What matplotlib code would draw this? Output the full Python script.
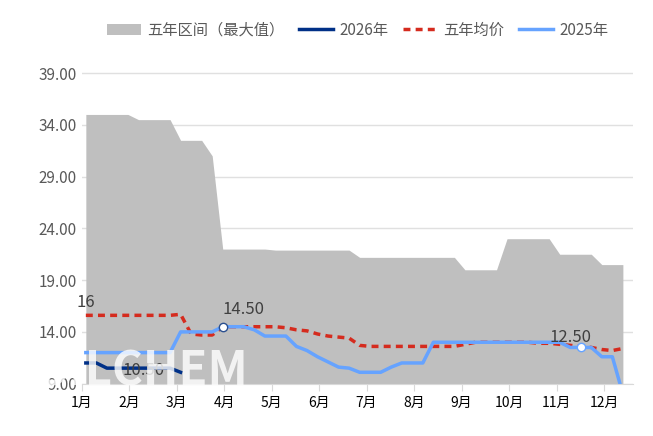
import numpy as np
import matplotlib.pyplot as plt

plt.rcParams['font.family'] = ['Noto Sans CJK SC', 'DejaVu Sans']

months = ['1月', '2月', '3月', '4月', '5月', '6月', '7月', '8月', '9月', '10月', '11月', '12月']

# 周度数据
max5 = [35.0]*5 + [34.5]*4 + [32.5]*3 + [31.0] + [22.0]*5 + [21.9]*8 + [21.2]*9 + [21.2]*1 + [20.0]*4 + [23.0]*5 + [21.5]*4 + [20.5]*3
avg5 = [15.6]*9 + [15.7, 13.8, 13.7, 13.7, 14.5, 14.5, 14.5, 14.5, 14.5, 14.5, 14.4, 14.2, 14.1,
        13.8, 13.6, 13.5, 13.4, 12.7, 12.6, 12.6, 12.6, 12.6, 12.6, 12.6, 12.6, 12.6, 12.6, 12.8, 13.0,
        13.0, 13.0, 13.0, 13.0, 13.0, 12.9, 12.9, 12.8, 12.7, 12.6, 12.5, 12.3, 12.2, 12.4]
y2025 = [12.0]*9 + [14.0]*4 + [14.5]*3 + [14.2, 13.6, 13.6, 13.6, 12.6, 12.2, 11.6, 11.1, 10.6,
         10.5, 10.1, 10.1, 10.1, 10.6, 11.0, 11.0, 11.0, 13.0] + [13.0]*12 + [12.5]*3 + [11.6, 11.6, 8.0]
y2026 = [11.0, 11.0, 10.5, 10.5, 10.5, 10.5, 10.5, 10.5, 10.5, 10.1]

fig, ax = plt.subplots(figsize=(6.53, 4.36), dpi=100)
fig.subplots_adjust(left=0.125, right=0.97, top=0.88, bottom=0.12)

ax.fill_between(np.arange(len(max5)), 0, max5, color='#bfbfbf', lw=0, label='五年区间（最大值）')
ax.plot(np.arange(len(y2026)), y2026, color='#003087', lw=2.5, label='2026年')
ax.plot(np.arange(len(avg5)), avg5, color='#d52b1e', lw=2.5, ls=(0, (2, 1.5)), label='五年均价')
ax.plot(np.arange(len(y2025)), y2025, color='#66a3ff', lw=2.5, label='2025年')

# 标注点
ax.plot(13, y2025[13], 'o', ms=6, mfc='white', mec='#2a4f8f', mew=1)
ax.plot(47, y2025[47], 'o', ms=6, mfc='white', mec='#66a3ff', mew=1)
ax.text(0, 16.4, '16', fontsize=12, color='#404040', ha='center')
ax.text(15, 15.7, '14.50', fontsize=12, color='#404040', ha='center')
ax.text(5.5, 9.8, '10.50', fontsize=12, color='#404040', ha='center')
ax.text(46, 13.0, '12.50', fontsize=12, color='#404040', ha='center')
ax.text(-5, 8.8, 'OILCHEM', fontsize=34, color='white', alpha=0.8, fontweight='bold', zorder=5)

ax.set_xlim(0, 52)
ax.set_ylim(9, 41)
ax.set_yticks(np.arange(9, 40, 5))
ax.set_yticklabels([f'{v:.2f}' for v in np.arange(9, 40, 5)], fontsize=11, color='#595959')
ax.set_xticks(-0.4 + 4.51*np.arange(12))
ax.set_xticklabels(months, fontsize=11, color='#595959')
ax.yaxis.grid(True, color='#e0e0e0', lw=1)
ax.set_axisbelow(True)
ax.tick_params(axis='y', length=0)
ax.tick_params(axis='x', length=5, color='#d9d9d9')
for s in ['top', 'right', 'left']:
    ax.spines[s].set_visible(False)
ax.spines['bottom'].set_color('#d9d9d9')
ax.spines['bottom'].set_position(('data', 9))

ax.legend(loc='lower center', bbox_to_anchor=(0.5, 1.0), ncol=4, frameon=False, fontsize=11,
          handlelength=2.2, columnspacing=1.0, handletextpad=0.4, labelcolor='#595959')

fig.savefig('out.png', dpi=100)
